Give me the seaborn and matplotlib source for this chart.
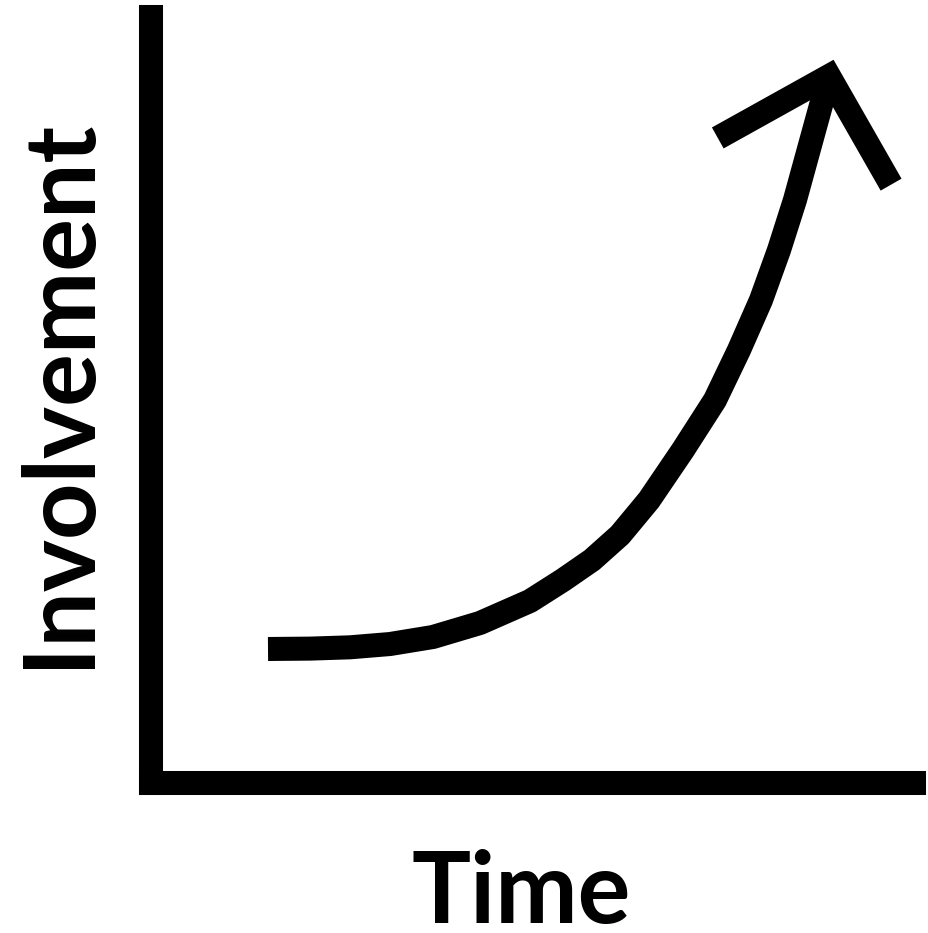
import pandas as pd
import seaborn as sns
import matplotlib.pyplot as plt

# growth curve (time 0-10, involvement 0-10)
time = [1.539, 2.089, 2.613, 3.137, 3.700, 4.316, 4.971, 5.403, 5.783, 6.149,
        6.529, 6.974, 7.394, 7.708, 7.996, 8.232, 8.441, 8.664, 8.887]
involvement = [1.744, 1.749, 1.766, 1.809, 1.901, 2.084, 2.371, 2.645, 2.907, 3.233,
               3.690, 4.344, 4.997, 5.650, 6.303, 6.956, 7.610, 8.420, 9.229]

# arrow head: left arm end, tip, right arm end
head_time = [7.43, 8.887, 9.70]
head_involvement = [8.42, 9.229, 7.81]

x_label = 'Time'
y_label = 'Involvement'

sns.set_style('white')
plt.rcParams['font.family'] = ['Lato', 'DejaVu Sans']

W, H = 929, 933
fig = plt.figure(figsize=(W / 100, H / 100), dpi=100)
ax = fig.add_axes([150.5 / W, (H - 782.5) / H, (914 - 150.5) / W, (782.5 - 17) / H])

lw = 17.3  # ~24 px

df = pd.DataFrame({'Time': time, 'Involvement': involvement})
head = pd.DataFrame({'Time': head_time, 'Involvement': head_involvement})

sns.lineplot(data=df, x='Time', y='Involvement', sort=False, ax=ax,
             color='black', linewidth=lw, solid_capstyle='butt',
             solid_joinstyle='round')
sns.lineplot(data=head, x='Time', y='Involvement', sort=False, ax=ax,
             color='black', linewidth=lw, solid_capstyle='butt',
             solid_joinstyle='miter')

ax.set_xlim(0, 10)
ax.set_ylim(0, 10)
ax.set_xticks([])
ax.set_yticks([])
ax.set_xlabel('')
ax.set_ylabel('')

for side in ['top', 'right']:
    ax.spines[side].set_visible(False)
for side in ['left', 'bottom']:
    ax.spines[side].set_linewidth(lw)
    ax.spines[side].set_color('black')
    ax.spines[side].set_capstyle('projecting')

fig.text(521 / W, (H - 923) / H, x_label, fontsize=71, fontweight='bold',
         color='black', ha='center', va='baseline')
fig.text(88 / W, (H - 393) / H, y_label, fontsize=71, fontweight='bold',
         color='black', rotation=90, rotation_mode='anchor',
         ha='center', va='baseline')

fig.savefig('out.png', dpi=100, facecolor='white')
